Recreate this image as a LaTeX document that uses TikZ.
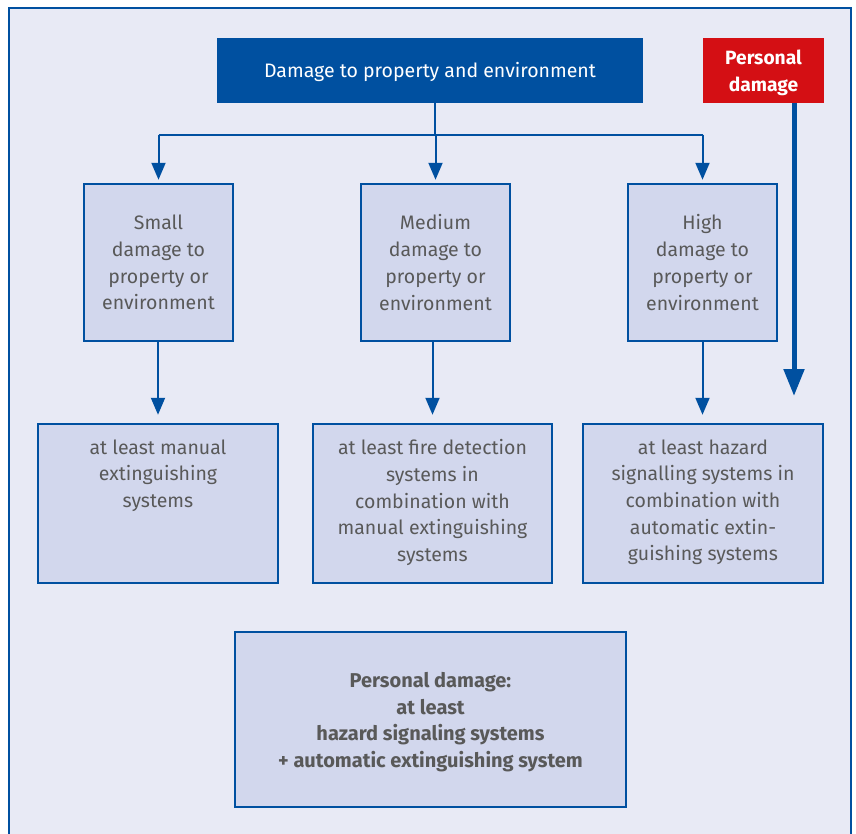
\documentclass[tikz,border=0pt]{standalone}
\usepackage{fontspec}
\setmainfont{Fira Sans}
\usetikzlibrary{arrows.meta}
\definecolor{frameblue}{HTML}{0050A0}
\definecolor{bgpanel}{HTML}{E8EAF5}
\definecolor{boxfill}{HTML}{D2D7ED}
\definecolor{pdred}{HTML}{D40F14}
\definecolor{txtgray}{HTML}{595959}
\begin{document}
\begin{tikzpicture}[x=1pt,y=-1pt,
  box/.style={draw=frameblue, line width=2.5pt, fill=boxfill, inner sep=0pt},
  txt/.style={text=txtgray, font=\fontsize{19.5}{26.7}\selectfont, align=center, inner sep=0pt},
  headbox/.style={fill=frameblue, text=white, inner sep=0pt, font=\fontsize{19.5}{26.7}\selectfont},
  redbox/.style={fill=pdred, text=white, inner sep=0pt, align=center, font=\bfseries\fontsize{19.2}{26.7}\selectfont},
  conn/.style={draw=frameblue, line width=2pt},
  arr/.style={conn, -{Triangle[width=14pt,length=17pt]}},
  bigarr/.style={draw=frameblue, line width=5pt, -{Triangle[width=20pt,length=27pt]}}
]
\useasboundingbox (0,0) rectangle (856,833);
\fill[white] (0,0) rectangle (856,833);
\fill[bgpanel] (9,8) rectangle (851,840);
\draw[frameblue, line width=2.5pt] (9,845) -- (9,8) -- (851,8) -- (851,845);

% top boxes
\node[headbox, minimum width=426pt, minimum height=65pt] (top) at (430,70.5) {};
\node[text=white, inner sep=0pt, font=\fontsize{19.5}{26.7}\selectfont] (topt) at (430,72) {Damage to property and environment};
\node[redbox, minimum width=121pt, minimum height=65pt] (pd) at (763.5,70.5) {};
\node[redbox, fill=none] (pdt) at (763.5,72.5) {Personal\\damage};

% middle boxes
\node[box, minimum width=149pt, minimum height=157pt, txt] (small) at (158.5,262.5) {Small\\damage to\\property or\\environment};
\node[box, minimum width=149pt, minimum height=157pt, txt] (medium) at (435.5,262.5) {Medium\\damage to\\property or\\environment};
\node[box, minimum width=149pt, minimum height=157pt, txt] (high) at (702.5,262.5) {High\\damage to\\property or\\environment};

% lower boxes
\node[box, minimum width=240pt, minimum height=159pt] (lowS) at (158,503.5) {};
\node[box, minimum width=239pt, minimum height=159pt] (lowM) at (432.5,503.5) {};
\node[box, minimum width=240pt, minimum height=159pt] (lowR) at (703,503.5) {};
\node[txt, anchor=north] (lowSt) at ([yshift=-16.5pt]lowS.north) {at least manual\\extinguishing\\systems};
\node[txt, anchor=north] (lowMt) at ([yshift=-16.5pt]lowM.north) {at least fire detection\\systems in\\combination with\\manual extinguishing\\systems};
\node[txt, anchor=north] (lowRt) at ([yshift=-16.5pt]lowR.north) {at least hazard\\signalling systems in\\combination with\\automatic extin-\\guishing systems};

% bottom box
\node[box, minimum width=391pt, minimum height=175pt] (pers) at (430.5,719.5) {};
\node[txt, font=\bfseries\fontsize{20}{26.5}\selectfont] (perst) at (430.5,722) {Personal damage:\\at least\\hazard signaling systems\\+ automatic extinguishing system};

% connectors
\coordinate (bar) at (435,134.5);
\draw[conn] (top.south -| bar) -- (bar);
\draw[conn] (small.north |- bar) -- (high.north |- bar);
\draw[arr, shorten >=3pt] (small.north |- bar) -- (small.north);
\draw[arr, shorten >=3pt] (medium.north |- bar) -- (medium.north);
\draw[arr, shorten >=3pt] (high.north |- bar) -- (high.north);

\draw[arr, shorten >=8pt] (small.south -| lowS.north) -- (lowS.north);
\draw[arr, shorten >=8pt] (medium.south -| lowM.north) -- (lowM.north);
\draw[arr, shorten >=8pt] (high.south) -- (high.south |- lowR.north);

\coordinate (pdtip) at (794,396);
\draw[bigarr] (pd.south -| pdtip) -- (pdtip);
\end{tikzpicture}
\end{document}
